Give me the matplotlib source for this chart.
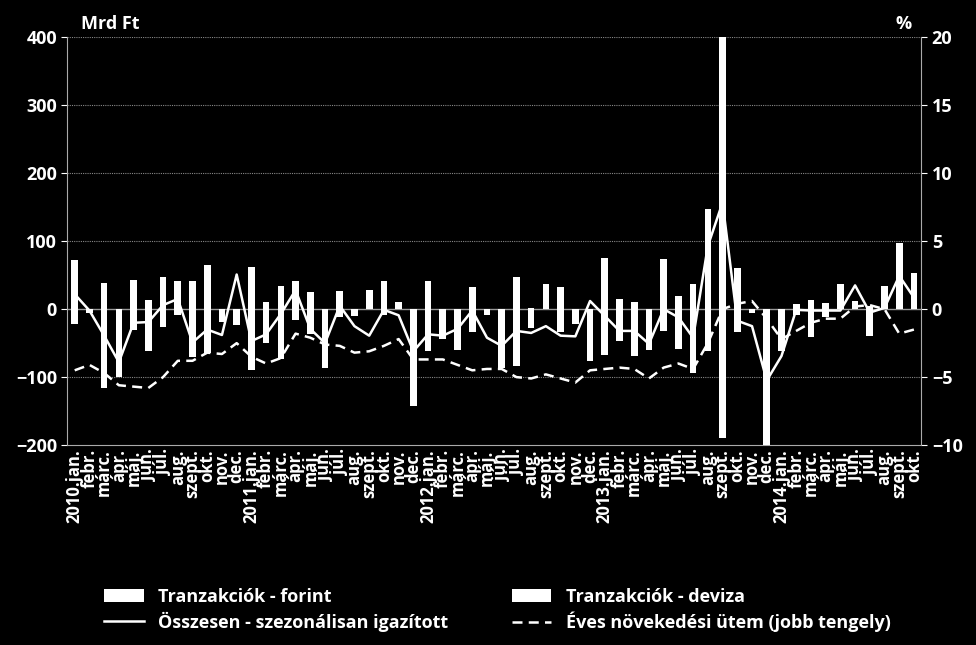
import matplotlib
matplotlib.use("Agg")
import matplotlib.pyplot as plt
from matplotlib.patches import Patch
from matplotlib.lines import Line2D
import numpy as np

plt.rcParams['font.family'] = ['Open Sans', 'DejaVu Sans']

months = ['jan.', 'febr.', 'márc.', 'ápr.', 'máj.', 'jún.', 'júl.', 'aug.', 'szept.', 'okt.', 'nov.', 'dec.']
labels = []
for y in range(2010, 2015):
    for m in months:
        labels.append(f"{y}.{m}" if m == 'jan.' else m)
labels = labels[:58]

forint = [73, -5, 38, 0, 43, 13, 47, 41, 41, 65, 0, 0, 62, 10, 34, 42, 25, 0, 27, 0, 28, 42, 10, 0, 42, 0, 0, 33, 0, 0,
          48, 2, 37, 32, 0, 0, 75, 15, 10, 0, 74, 20, 37, 147, 410, 60, 0, 0, 0, 8, 14, 9, 37, 12, 5, 34, 97, 53]
deviza = [-22, 0, -116, -100, -31, -62, -26, -9, -70, -65, -19, -23, -90, -50, -73, -16, -37, -87, -12, -10, 0, -8, 0, -142,
          -62, -44, -60, -34, -8, -86, -84, -27, 0, -34, -22, -76, -67, -47, -69, -60, -32, -58, -94, -62, -189, -33, -5, -215,
          -62, -8, -41, -12, 0, 0, -39, 0, 0, 0]
osszesen = [22, -2, -39, -78, -20, -19, 6, 15, -49, -30, -38, 51, -47, -37, -7, 28, -29, -50, 5, -25, -39, -1, -9, -62,
            -37, -39, -29, -2, -42, -54, -32, -35, -25, -39, -40, 12, -10, -32, -32, -51, 0, -12, -42, 93, 157, -17, -25, -105,
            -69, -1, -2, -2, -2, 35, -5, 2, 49, 17]
eves = [-4.5, -4.1, -4.7, -5.6, -5.7, -5.8, -5.0, -3.8, -3.8, -3.2, -3.3, -2.5, -3.5, -4.0, -3.6, -1.8, -2.1, -2.6, -2.7, -3.2,
        -3.1, -2.7, -2.2, -3.7, -3.7, -3.7, -4.1, -4.5, -4.4, -4.4, -5.0, -5.1, -4.8, -5.1, -5.4, -4.5, -4.4, -4.3, -4.4, -5.1,
        -4.3, -4.0, -4.4, -2.5, 0.0, 0.4, 0.6, -0.7, -2.2, -1.6, -1.0, -0.7, -0.7, 0.2, 0.3, 0.0, -1.8, -1.5]

fig = plt.figure(figsize=(9.76, 6.45), dpi=100, facecolor='black')
ax = fig.add_axes([0.069, 0.31, 0.875, 0.632])
ax.set_facecolor('black')
x = np.arange(len(labels))
ax.bar(x, forint, width=0.45, color='white', zorder=3)
ax.bar(x, deviza, width=0.45, color='white', zorder=3)
ax.plot(x, osszesen, color='white', lw=1.8, zorder=4)
ax.set_ylim(-200, 400)
ax.set_xlim(-0.5, len(labels) - 0.5)
ax.set_yticks(range(-200, 401, 100))
for v in [100, 200, 300, 400, -100]:
    ax.axhline(v, color='#888888', lw=0.8, ls=(0, (1, 1)), zorder=1)
ax.axhline(0, color='#999999', lw=1, zorder=2)
ax.set_xticks(x)
ax.set_xticklabels(labels, rotation=90, color='white', fontsize=12, fontweight='bold')
ax.tick_params(axis='x', length=0, pad=3)
ax.tick_params(axis='y', colors='white', labelsize=13, length=4)
for l in ax.get_yticklabels():
    l.set_fontweight('bold')
for s in ['top', 'right']:
    ax.spines[s].set_visible(False)
for s in ['left', 'bottom']:
    ax.spines[s].set_color('#aaaaaa')

ax2 = ax.twinx()
ax2.plot(x, eves, color='white', lw=1.8, ls=(0, (4, 2.5)), zorder=4)
ax2.set_ylim(-10, 20)
ax2.set_yticks(range(-10, 21, 5))
ax2.tick_params(axis='y', colors='white', labelsize=13, length=4)
for l in ax2.get_yticklabels():
    l.set_fontweight('bold')
for s in ['top', 'left', 'bottom']:
    ax2.spines[s].set_visible(False)
ax2.spines['right'].set_color('#aaaaaa')

fig.text(0.083, 0.955, 'Mrd Ft', color='white', fontsize=13, fontweight='bold')
fig.text(0.918, 0.955, '%', color='white', fontsize=13, fontweight='bold')

handles = [Patch(facecolor='white'), Patch(facecolor='white'),
           Line2D([], [], color='white', lw=1.8), Line2D([], [], color='white', lw=1.8, ls=(0, (4, 2.5)))]
names = ['Tranzakciók - forint', 'Tranzakciók - deviza', 'Összesen - szezonálisan igazított', 'Éves növekedési ütem (jobb tengely)']
order = [0, 2, 1, 3]
leg = fig.legend([handles[i] for i in order], [names[i] for i in order], ncol=2, loc='lower left',
                 bbox_to_anchor=(0.09, -0.005), frameon=False, fontsize=13, columnspacing=3.5,
                 handlelength=2.2, labelspacing=0.3)
for t in leg.get_texts():
    t.set_color('white')
    t.set_fontweight('bold')

fig.savefig('out.png', facecolor='black', dpi=100)
